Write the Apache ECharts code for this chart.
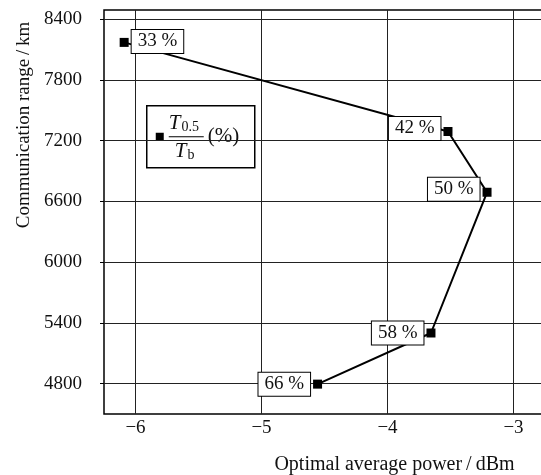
<!DOCTYPE html>
<html>
<head>
<meta charset="utf-8">
<script src="https://cdn.jsdelivr.net/npm/echarts@6/dist/echarts.min.js"></script>
<style>
  html, body { margin: 0; padding: 0; background: #fff; }
  #chart { width: 541px; height: 475px; }
</style>
</head>
<body>
<div id="chart"></div>
<script>
// data
const power = [-6.09, -3.52, -3.21, -3.655, -4.555];   // optimal average power, dBm
const range = [8170, 7290, 6690, 5300, 4795];          // communication range, km
const ratioLabels = ['33 %', '42 %', '50 %', '58 %', '66 %'];
const labelSide = ['right', 'left', 'left', 'left', 'left'];
const labelLift = [-1, -3, -3, 0, 0];
const xTicks = [-6, -5, -4, -3];
const yTicks = [4800, 5400, 6000, 6600, 7200, 7800, 8400];

const serif = '"Liberation Serif", "DejaVu Serif", serif';

const chart = echarts.init(document.getElementById('chart'));

// one row per point, label side kept with it
const points = power.map((p, i) => ({
  value: [p, range[i]],
  label: { position: labelSide[i], formatter: ratioLabels[i], offset: [0, labelLift[i]] }
}));

const sub = { fontFamily: serif, fontSize: 14, fill: '#111', verticalAlign: 'bottom', padding: [8, 0, 0, 1] };
const ital = { fontFamily: serif, fontSize: 21, fontStyle: 'italic', fill: '#111' };

const option = {
  animation: false,
  backgroundColor: '#fff',
  grid: {
    left: 104, right: -4, top: 10, bottom: 61,
    outerBoundsMode: 'none',
    containLabel: false,
    show: true, borderColor: '#000', borderWidth: 1.5
  },
  xAxis: {
    type: 'value',
    min: -6.25, max: -2.75,
    name: 'Optimal average power\u2009/\u2009dBm',
    nameLocation: 'middle',
    nameGap: 41,
    nameTextStyle: { fontFamily: serif, fontSize: 20, color: '#111', padding: [0, 0, 0, 140] },
    axisLine: { show: false },
    axisTick: { show: false, customValues: xTicks },
    axisLabel: {
      customValues: xTicks,
      fontFamily: serif, fontSize: 19, color: '#111', margin: 5,
      formatter: v => String(v).replace('-', '\u2212')
    },
    splitLine: { show: true, lineStyle: { color: '#222', width: 1 } }
  },
  yAxis: {
    type: 'value',
    min: 4500, max: 8490,
    name: 'Communication range\u2009/\u2009km',
    nameLocation: 'middle',
    nameGap: 70,
    nameTextStyle: { fontFamily: serif, fontSize: 19, color: '#111', padding: [0, 0, 0, 174] },
    axisLine: { show: false },
    axisTick: { show: true, inside: false, length: 4, customValues: yTicks, lineStyle: { color: '#000' } },
    axisLabel: {
      customValues: yTicks, fontFamily: serif, fontSize: 19, color: '#111', margin: 22,
      formatter: v => String(v)
    },
    splitLine: { show: true, lineStyle: { color: '#222', width: 1 } }
  },
  series: [{
    type: 'line',
    data: points,
    symbol: 'rect',
    symbolSize: 9,
    itemStyle: { color: '#000' },
    lineStyle: { color: '#000', width: 2 },
    label: {
      show: true,
      distance: 3,
      fontFamily: serif,
      fontSize: 19,
      color: '#111',
      backgroundColor: '#fff',
      borderColor: '#000',
      borderWidth: 1,
      padding: [3, 6, 1, 6]
    },
    z: 3
  }],
  // legend box with the T0.5 / Tb fraction
  graphic: [{
    type: 'group', left: 146, top: 105,
    children: [
      { type: 'rect', shape: { x: 0, y: 0, width: 108, height: 62 },
        style: { fill: '#fff', stroke: '#000', lineWidth: 1.5 } },
      { type: 'rect', shape: { x: 9, y: 27, width: 8, height: 8 }, style: { fill: '#000' } },
      { type: 'text', x: 22, y: 7,
        style: { text: '{t|T}{s|0.5}', rich: { t: ital, s: sub } } },
      { type: 'line', shape: { x1: 22, y1: 31, x2: 57, y2: 31 }, style: { stroke: '#000', lineWidth: 1 } },
      { type: 'text', x: 28, y: 35,
        style: { text: '{t|T}{s|b}', rich: { t: ital, s: sub } } },
      { type: 'text', x: 61, y: 20,
        style: { text: '(%)', fontFamily: serif, fontSize: 21, fill: '#111' } }
    ]
  }]
};

chart.setOption(option);
</script>
</body>
</html>
